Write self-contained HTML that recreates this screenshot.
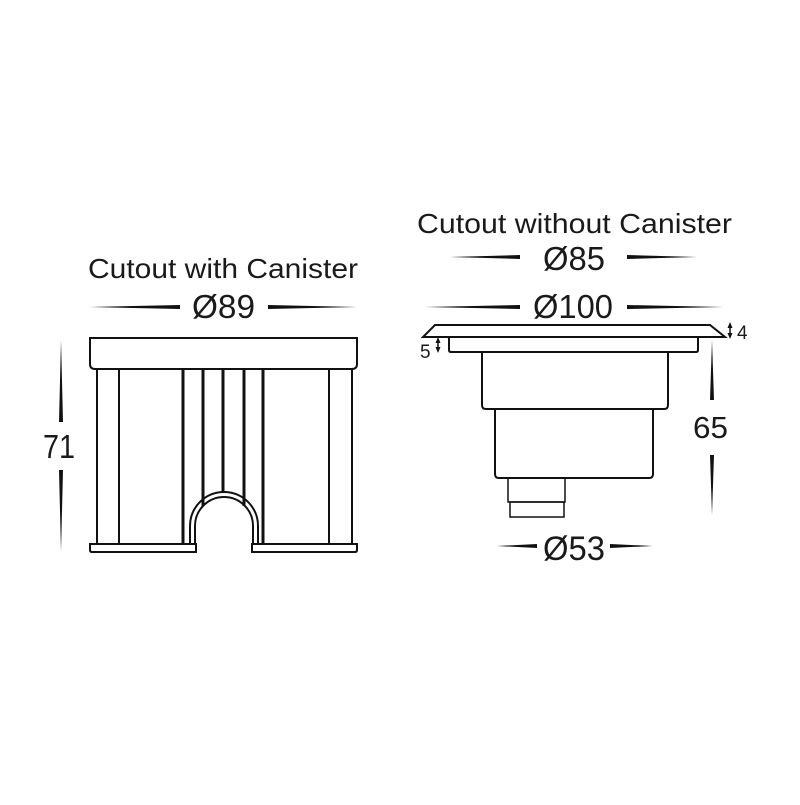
<!DOCTYPE html>
<html><head><meta charset="utf-8"><style>html,body{margin:0;padding:0;background:#fff}</style></head>
<body>
<svg width="800" height="800" viewBox="0 0 800 800" xmlns="http://www.w3.org/2000/svg" font-family="Liberation Sans, sans-serif" fill="#1a1a1a">
<rect width="800" height="800" fill="#fff"/>
<!-- Texts -->
<text x="88" y="278" font-size="28" textLength="270" lengthAdjust="spacingAndGlyphs">Cutout with Canister</text>
<text x="192" y="318" font-size="33" textLength="63" lengthAdjust="spacingAndGlyphs">Ø89</text>
<text x="417" y="233" font-size="28" textLength="315" lengthAdjust="spacingAndGlyphs">Cutout without Canister</text>
<text x="543" y="270" font-size="33" textLength="62" lengthAdjust="spacingAndGlyphs">Ø85</text>
<text x="533" y="318" font-size="33" textLength="80" lengthAdjust="spacingAndGlyphs">Ø100</text>
<text x="543" y="560" font-size="34" textLength="62" lengthAdjust="spacingAndGlyphs">Ø53</text>
<text x="43" y="458" font-size="33" textLength="32" lengthAdjust="spacingAndGlyphs">71</text>
<text x="693" y="438" font-size="31" textLength="35" lengthAdjust="spacingAndGlyphs">65</text>
<text x="737" y="339" font-size="19">4</text>
<text x="420" y="358" font-size="19">5</text>
<!-- Dimension lines (tapered) -->
<g fill="#111">
<polygon points="90,307 180,305 180,309"/>
<polygon points="357,307 268,305 268,309"/>
<polygon points="450,257 520,255 520,259"/>
<polygon points="697,257 627,255 627,259"/>
<polygon points="425,307 520,305 520,309"/>
<polygon points="723,307 627,305 627,309"/>
<polygon points="497,546 537,544 537,548"/>
<polygon points="653,546 610,544 610,548"/>
<polygon points="61,340 59,422 63,422"/>
<polygon points="61,552 59,470 63,470"/>
<polygon points="712,340 710,400 714,400"/>
<polygon points="712,515 710,455 714,455"/>
<line x1="730" y1="326" x2="730" y2="336" stroke="#111" stroke-width="1.5"/>
<polygon points="730,322 727.5,328 732.5,328"/>
<polygon points="730,339 727.5,333 732.5,333"/>
<line x1="438" y1="340" x2="438" y2="350" stroke="#111" stroke-width="1.5"/>
<polygon points="438,337 435.5,343 440.5,343"/>
<polygon points="438,353 435.5,347 440.5,347"/>
</g>
<!-- Left drawing -->
<g fill="none" stroke="#111" stroke-width="2">
<path d="M90,338 H357 V364 Q357,369 352,369 H95 Q90,369 90,364 Z"/>
<line x1="97" y1="369" x2="97" y2="544"/>
<line x1="119" y1="369" x2="119" y2="544"/>
<line x1="329" y1="369" x2="329" y2="544"/>
<line x1="352" y1="369" x2="352" y2="544"/>
<path d="M90,544 H196 V552 H92 Q90,552 90,550 Z"/>
<path d="M357,544 H252 V552 H355 Q357,552 357,550 Z"/>
<path d="M190,544 V526 A34,34 0 0 1 258,526 V544"/>
<path d="M195,544 V526 A29,29 0 0 1 253,526 V544"/>
</g>
<g stroke="#111" stroke-width="3">
<line x1="183" y1="369" x2="183" y2="544"/>
<line x1="203" y1="369" x2="203" y2="506"/>
<line x1="223" y1="369" x2="223" y2="492"/>
<line x1="244" y1="369" x2="244" y2="506"/>
<line x1="263" y1="369" x2="263" y2="544"/>
</g>
<!-- Right drawing -->
<g fill="none" stroke="#111" stroke-width="2">
<path d="M435,325 H710 L725,337 H423 Z"/>
<path d="M449,337 H698 V350 Q698,352 696,352 H451 Q449,352 449,350 Z"/>
<path d="M482,352 H668 V405 Q668,409 664,409 H486 Q482,409 482,405 Z"/>
<path d="M495,409 H653 V474 Q653,478 649,478 H499 Q495,478 495,474 Z"/>
<path d="M508,478 H565 V502 H508 Z" stroke-width="1.5"/>
<path d="M510,502 H564 V517 H510 Z" stroke-width="1.5"/>
</g>
</svg>
</body></html>
